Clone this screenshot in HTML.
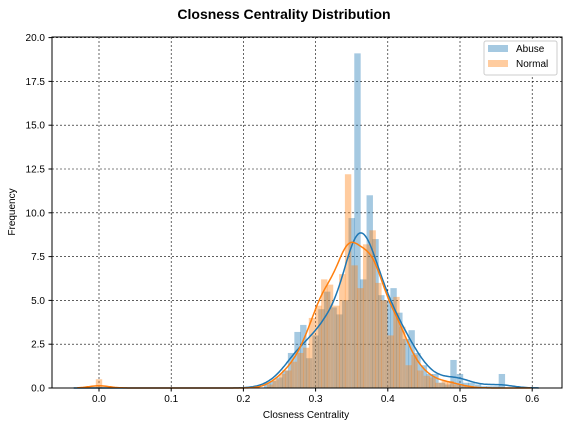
<!DOCTYPE html>
<html><head><meta charset="utf-8"><style>
body{margin:0;background:#fff;}
svg{font-family:"Liberation Sans","DejaVu Sans",sans-serif;}
</style></head><body>
<svg id="chart" width="568" height="426">
<text x="284" y="19" text-anchor="middle" font-size="14" font-weight="bold">Closness Centrality Distribution</text>
<g id="grid"></g>
<g id="bars"></g>
<g id="lines"></g>
<rect x="52" y="37" width="510" height="351" fill="none" stroke="#000" stroke-width="1"/>
<g id="ticks" font-size="10"></g>
<text x="306" y="418" text-anchor="middle" font-size="10">Closness Centrality</text>
<text transform="translate(15,212) rotate(-90)" text-anchor="middle" font-size="10">Frequency</text>
<g>
<rect x="484" y="41" width="73" height="34" rx="2" fill="#fff" stroke="#ccc"/>
<rect x="488" y="45" width="20" height="7" fill="#1f77b4" fill-opacity="0.4"/>
<text x="516" y="52" font-size="10">Abuse</text>
<rect x="488" y="60" width="20" height="7" fill="#ff7f0e" fill-opacity="0.4"/>
<text x="516" y="67" font-size="10">Normal</text>
</g>
</svg>
<script>
const binWidth = 0.0083;
const abuseCenters = [0.233,0.241,0.250,0.258,0.266,0.275,0.283,0.291,0.300,0.308,0.316,0.325,0.333,0.341,0.350,0.358,0.366,0.375,0.383,0.391,0.400,0.408,0.416,0.425,0.433,0.441,0.450,0.458,0.466,0.475,0.483,0.491,0.500,0.508,0.516,0.525,0.533,0.541,0.550,0.558];
const abuseValues = [0.3,0.4,0.6,1.0,2.0,3.2,3.6,1.7,3.0,4.5,5.5,4.6,4.2,5.0,9.7,19.1,6.2,11.0,8.5,5.3,5.0,5.7,4.3,2.8,3.3,2.0,1.3,0.8,0.8,0.3,0.2,1.6,0.8,0.3,0.3,0.2,0.1,0.1,0.1,0.8];
const normalCenters = [0.0,0.237,0.245,0.254,0.262,0.270,0.279,0.287,0.295,0.304,0.312,0.320,0.329,0.337,0.345,0.354,0.362,0.370,0.379,0.387,0.395,0.404,0.412,0.420,0.429,0.437,0.445,0.454,0.462,0.470,0.479,0.487,0.495,0.504,0.512];
const normalValues = [0.5,0.2,0.5,0.8,1.0,1.5,2.0,2.3,4.0,4.7,6.2,5.9,4.7,6.5,12.2,7.0,5.7,8.2,9.0,6.0,5.0,3.0,5.2,3.5,1.3,1.9,1.0,0.7,0.6,0.3,0.4,0.4,0.2,0.1,0.1];
const xTicks = [0.0,0.1,0.2,0.3,0.4,0.5,0.6];
const yTicks = [0,2.5,5,7.5,10,12.5,15,17.5,20];

const X = v => 99 + v*722;
const Y = v => 388 - v*17.52;
const NS = "http://www.w3.org/2000/svg";
function mk(tag, attrs, parent){const e=document.createElementNS(NS,tag);for(const k in attrs)e.setAttribute(k,attrs[k]);parent.appendChild(e);return e;}
const grid=document.getElementById('grid'), ticks=document.getElementById('ticks'), bars=document.getElementById('bars'), lines=document.getElementById('lines');

xTicks.forEach(t=>{
  const l=mk('line',{x1:X(t),x2:X(t),y1:37,y2:388,stroke:'#000','stroke-width':0.6,'stroke-dasharray':'2,2'},grid);
  
  
  mk('line',{x1:X(t),x2:X(t),y1:388,y2:391.5,stroke:'#000'},ticks);
  const tx=mk('text',{x:X(t),y:402,'text-anchor':'middle'},ticks);tx.textContent=t.toFixed(1);
  
  
});
yTicks.forEach(t=>{
  const l=mk('line',{x1:52,x2:562,y1:Y(t),y2:Y(t),stroke:'#000','stroke-width':0.6,'stroke-dasharray':'2,2'},grid);
  
  
  mk('line',{x1:48.5,x2:52,y1:Y(t),y2:Y(t),stroke:'#000'},ticks);
  const tx=mk('text',{x:45,y:Y(t)+3.5,'text-anchor':'end'},ticks);tx.textContent=t.toFixed(1);
  
  
});

function drawBars(centers, values, color, name){
  centers.forEach((c,i)=>{
    const x0=X(c-binWidth/2), x1=X(c+binWidth/2);
    const r=mk('rect',{x:x0-0.2,y:Y(values[i]),width:x1-x0+0.4,height:388-Y(values[i]),fill:color,'fill-opacity':0.4},bars);
    
    
  });
}
drawBars(abuseCenters,abuseValues,'#1f77b4','abuse-bar');
drawBars(normalCenters,normalValues,'#ff7f0e','normal-bar');

function kde(centers, values, bw, xmin, xmax){
  let total=0; values.forEach(v=>total+=v*binWidth);
  const pts=[];
  for(let x=xmin;x<=xmax;x+=0.002){
    let s=0;
    centers.forEach((c,i)=>{const w=values[i]*binWidth/total;s+=w*Math.exp(-0.5*((x-c)/bw)**2)/(bw*Math.sqrt(2*Math.PI));});
    pts.push(X(x).toFixed(1)+','+Y(s).toFixed(1));
  }
  return pts.join(' ');
}
const pa=mk('polyline',{points:kde(abuseCenters,abuseValues,0.018,-0.035,0.61),fill:'none',stroke:'#1f77b4','stroke-width':1.5},lines);


const pn=mk('polyline',{points:kde(normalCenters,normalValues,0.014,-0.03,0.6),fill:'none',stroke:'#ff7f0e','stroke-width':1.5},lines);


</script>
</body></html>
